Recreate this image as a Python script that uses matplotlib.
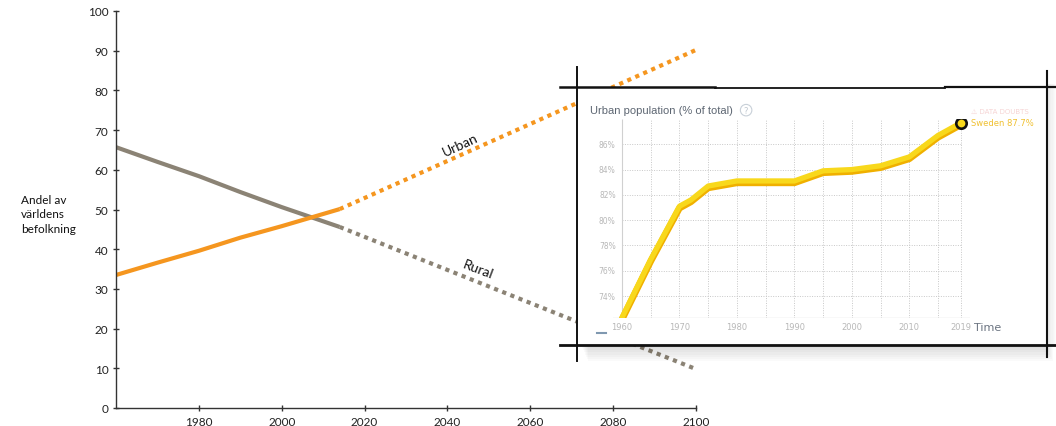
import matplotlib
matplotlib.use("Agg")
import matplotlib.pyplot as plt
from matplotlib.patches import Rectangle

# world urban / rural share (% of population)
years_hist = [1960, 1970, 1980, 1990, 2000, 2014]
urban_hist = [33.5, 36.6, 39.6, 42.9, 45.8, 50.1]
rural_hist = [65.7, 62.0, 58.4, 54.4, 50.6, 45.6]
years_proj = [2014, 2100]
urban_proj = [50.1, 90.2]
rural_proj = [45.6, 9.8]

# Sweden urban population (% of total), inset screenshot
se_years = [1960, 1965, 1970, 1972, 1975, 1980, 1985, 1990, 1995, 2000, 2005, 2010, 2015, 2019]
se_urban = [72.3, 76.9, 81.1, 81.6, 82.7, 83.1, 83.1, 83.1, 83.9, 84.0, 84.3, 85.0, 86.7, 87.7]

x_ticks = [1980, 2000, 2020, 2040, 2060, 2080, 2100]
y_ticks = list(range(0, 101, 10))
se_pct_ticks = [74, 76, 78, 80, 82, 84, 86]
se_year_labels = [1960, 1970, 1980, 1990, 2000, 2010, 2019]

ORANGE = "#f5961f"
GRAY = "#8b8375"
W, H = 1056, 427

fig = plt.figure(figsize=(W / 100, H / 100), dpi=100)
fig.patch.set_facecolor("white")

# ---- main chart
ax = fig.add_axes([116 / W, 18 / H, 580 / W, 397 / H])
ax.plot(years_hist, rural_hist, color=GRAY, lw=3, solid_capstyle="butt")
ax.plot(years_hist, urban_hist, color=ORANGE, lw=3, solid_capstyle="butt")
ax.plot(years_proj, urban_proj, color=ORANGE, lw=3, ls=(0, (1, 1.1)))
ax.plot(years_proj, rural_proj, color=GRAY, lw=3, ls=(0, (1, 1.1)))
ax.set_xlim(1960, 2100)
ax.set_ylim(0, 100)
ax.set_xticks(x_ticks)
ax.set_yticks(y_ticks)
for s in ["top", "right"]:
    ax.spines[s].set_visible(False)
for s in ["left", "bottom"]:
    ax.spines[s].set_color("#333333")
    ax.spines[s].set_linewidth(1)
ax.tick_params(direction="inout", length=5, width=1, color="#333333",
               labelsize=8.5, labelcolor="#222222", pad=3)
for lab in ax.get_xticklabels() + ax.get_yticklabels():
    lab.set_family("Lato")

ax.text(2043.0, 66.5, "Urban", rotation=25, fontsize=10, family="Lato",
        ha="center", va="center", color="#111111")
ax.text(2047.4, 35.0, "Rural", rotation=-21, fontsize=10, family="Lato",
        ha="center", va="center", color="#111111")
fig.text(21 / W, 1 - 215 / H, "Andel av\nvärldens\nbefolkning", fontsize=8.5,
         family="Lato", ha="left", va="center", linespacing=1.35, color="#111111")

# ---- sketched frame around the pasted screenshot
ov = fig.add_axes([0, 0, 1, 1], zorder=5)
ov.set_xlim(0, W)
ov.set_ylim(H, 0)
ov.axis("off")
ov.patch.set_alpha(0)
for i in range(7):
    ov.add_patch(Rectangle((582 + i, 346), 465, 3 + 2.2 * i, color="black",
                           alpha=0.02, lw=0))
    ov.add_patch(Rectangle((1047, 85), 2 + 1.2 * i, 262, color="black",
                           alpha=0.012, lw=0))
ov.add_patch(Rectangle((577, 88), 470, 258, color="white", lw=0))
ov.plot([560, 715], [87.5, 87.5], color="#111111", lw=1.8)
ov.plot([715, 945], [88.5, 88.5], color="#111111", lw=1.3)
ov.plot([945, 1056], [87.5, 87.5], color="#111111", lw=1.6)
ov.plot([560, 1056], [346, 346], color="#111111", lw=2.0)
ov.plot([577, 577], [68, 362], color="#111111", lw=1.4)
ov.plot([1047, 1047], [72, 358], color="#111111", lw=1.5)
ov.plot([597, 606], [333.5, 333.5], color="#5f7e9c", lw=1.5, alpha=0.8)

# ---- the Gapminder inset
ix = fig.add_axes([613 / W, (H - 319) / H, 357 / W, 199 / H], zorder=6)
ix.patch.set_alpha(0)
ix.set_xlim(1958.43, 2020.57)
ix.set_ylim(72.26, 88.0)
ix.axis("off")
grid_kw = dict(color="#c8c8c8", lw=0.7, ls=(0, (1, 1.5)))
ix.vlines(list(range(1965, 2016, 5)) + [2019], 72.26, 88.0, **grid_kw)
ix.hlines(se_pct_ticks, 1960, 2019, **grid_kw)
ix.vlines([1960], 72.26, 88.0, color="#d0d0d0", lw=0.8)
ix.plot([1958.43, 2020.57], [72.26, 72.26], color="#cccccc", lw=0.9)
ix.plot(se_years, [v - 0.15 for v in se_urban], color="#f0b000", lw=4.8,
        solid_capstyle="round", solid_joinstyle="round")
ix.plot(se_years, se_urban, color="#f8d81c", lw=3.8,
        solid_capstyle="round", solid_joinstyle="round")
ix.plot([se_years[-1]], [se_urban[-1]], "o", ms=7.5, mfc="#f8d81c",
        mec="#111111", mew=1.9)
ix.text(se_years[-1] + 1.7, se_urban[-1], "Sweden %.1f%%" % se_urban[-1],
        color="#f0c030", fontsize=6, va="center", ha="left")
ix.text(se_years[-1] + 1.7, se_urban[-1] + 0.95, "\u26a0 DATA DOUBTS",
        color="#f6d4d4", fontsize=5, va="center", ha="left")
for v in se_pct_ticks:
    ix.text(1958.9, v, "%d%%" % v, color="#b8b8b8", fontsize=5.5,
            ha="right", va="center")
for yv in se_year_labels:
    ix.text(yv, 71.6, str(yv), color="#b8b8b8", fontsize=6,
            ha="center", va="center")
ix.text(2021.2, 71.55, "Time", color="#6a7380", fontsize=8, ha="left", va="center")
ix.text(1954.4, 88.7, "Urban population (% of total)", color="#5d6672",
        fontsize=8, ha="left", va="center", family="Liberation Sans")
ix.text(1981.6, 88.7, "?", color="#c0c8d0", fontsize=6, ha="center", va="center",
        bbox=dict(boxstyle="circle,pad=0.15", fc="white", ec="#c8d0d8", lw=0.8))

fig.savefig("out.png", dpi=100)
